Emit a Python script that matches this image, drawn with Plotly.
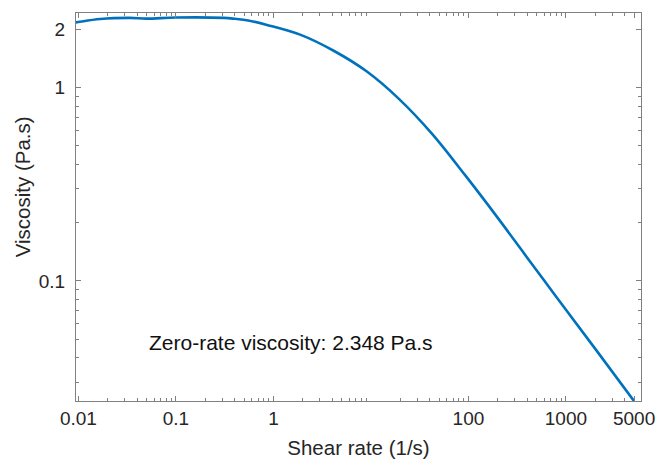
import plotly.graph_objects as go

# Flow curve: shear rate (1/s) vs viscosity (Pa.s)
shear_rate = [0.0094, 0.01, 0.0167, 0.0336, 0.05, 0.1, 0.31, 0.4, 0.55, 0.877, 1.905,
              4.15, 9.02, 19.6, 42.6, 92.9, 201.8, 439.5, 673, 1000, 2000, 5000]
viscosity = [2.17, 2.18, 2.26, 2.29, 2.27, 2.30, 2.29, 2.265, 2.22, 2.10, 1.87,
             1.548, 1.212, 0.868, 0.574, 0.351, 0.2105, 0.1237, 0.0927, 0.0710, 0.0445, 0.0239]

x_ticks = [0.01, 0.1, 1, 100, 1000, 5000]
x_tick_text = ["0.01", "0.1", "1", "100", "1000", "5000"]
y_ticks = [0.1, 1, 2]
y_tick_text = ["0.1", "1", "2"]

zero_rate_label = "Zero-rate viscosity: 2.348 Pa.s"
x_title = "Shear rate (1/s)"
y_title = "Viscosity (Pa.s)"

x_minor = [m * 10.0 ** e for e in range(-2, 4) for m in range(2, 10)]
y_minor = [m * 10.0 ** e for e in range(-2, 1) for m in range(2, 10)]

axis_color = "#808080"
text_color = "#262626"
font_family = "Liberation Sans, Arial, sans-serif"

W, H = 667, 467
L, R, T, B = 76, 19, 13, 63

fig = go.Figure()
fig.add_trace(go.Scatter(
    x=shear_rate, y=viscosity, mode="lines",
    line=dict(color="#0072BD", width=2.6, shape="spline", smoothing=1.0),
    showlegend=False,
))

fig.add_annotation(
    text=zero_rate_label, xref="paper", yref="paper",
    x=(148 - L) / (W - L - R), y=(H - B - 345) / (H - T - B),
    xanchor="left", yanchor="middle",
    showarrow=False, font=dict(size=21, color="#111111", family=font_family),
)

# vertical axis title, placed beside the tick labels
fig.add_annotation(
    text=y_title, xref="paper", yref="paper",
    x=(22 - L) / (W - L - R), y=(H - B - 188) / (H - T - B),
    xanchor="center", yanchor="middle", textangle=-90,
    showarrow=False, font=dict(size=20.5, color=text_color, family=font_family),
)

common = dict(
    showline=True, linecolor=axis_color, linewidth=1.2, mirror="allticks",
    ticks="inside", ticklen=5, tickcolor=axis_color, tickwidth=1,
    showgrid=False, zeroline=False,
    tickfont=dict(size=19, color=text_color, family=font_family),
)

fig.update_xaxes(
    type="log", range=[-2.025, 3.77],
    tickvals=x_ticks, ticktext=x_tick_text,
    minor=dict(tickvals=x_minor, ticks="inside", ticklen=3, tickcolor=axis_color),
    title=dict(text=x_title, font=dict(size=20.5, color=text_color, family=font_family),
               standoff=12),
    **common,
)
fig.update_yaxes(
    type="log", range=[-1.621, 0.385],
    tickvals=y_ticks, ticktext=y_tick_text,
    minor=dict(tickvals=y_minor, ticks="inside", ticklen=3, tickcolor=axis_color),
    ticklabelstandoff=6,
    **common,
)

fig.update_layout(
    width=W, height=H,
    margin=dict(l=L, r=R, t=T, b=B),
    plot_bgcolor="white", paper_bgcolor="white",
)

fig.write_html("out.html")
